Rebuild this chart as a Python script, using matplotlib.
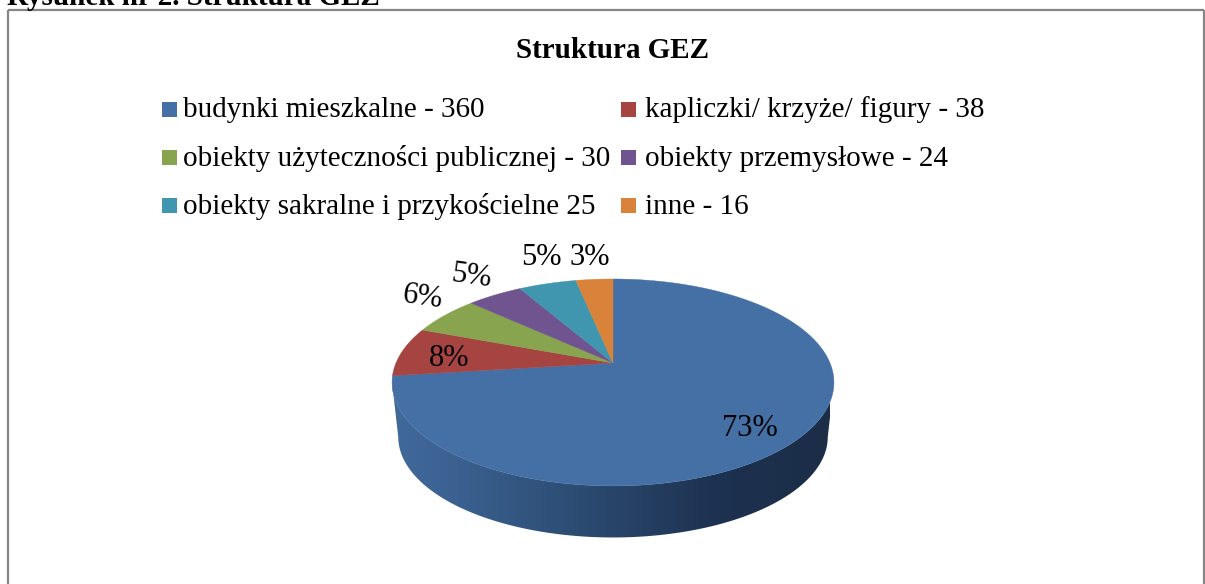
import numpy as np
import matplotlib
matplotlib.use("Agg")
import matplotlib.pyplot as plt
from matplotlib.colors import LinearSegmentedColormap
from matplotlib.patches import Polygon, Rectangle

categories = ["budynki mieszkalne", "kapliczki/ krzyże/ figury", "obiekty użyteczności publicznej",
              "obiekty przemysłowe", "obiekty sakralne i przykościelne", "inne"]
values = [360, 38, 30, 24, 25, 16]
legend_labels = ["budynki mieszkalne - 360", "kapliczki/ krzyże/ figury - 38",
                 "obiekty użyteczności publicznej - 30", "obiekty przemysłowe - 24",
                 "obiekty sakralne i przykościelne 25", "inne - 16"]
colors = ["#4470a6", "#a64442", "#88a44e", "#6f5490", "#4096ae", "#d98239"]

plt.rcParams["font.family"] = ["Liberation Serif", "DejaVu Serif"]

# pixel positions, figure is used as one big canvas
legend_pos = [(162, 102), (621, 102), (162, 150), (621, 150), (162, 198), (621, 198)]
legend_text_pos = [(183, 117), (645, 117), (183, 166), (645, 166), (183, 214), (645, 214)]
pct_pos = [(750, 436), (449, 366), (422, 305), (470, 284), (541, 265), (590, 265)]
pct_rot = [0, 0, -8, -8, 0, 0]

CX, CY = 613, 363
A, B, K = 217, 99.8, 0.188


def project(theta, scale=1.0, dy=0.0):
    # clockwise from the top, circle seen in perspective
    u, v = np.sin(theta), np.cos(theta)
    w = 1 + K * v
    return CX + scale * A * u / w, CY + dy - scale * B * v / w


fig = plt.figure(figsize=(12.05, 5.84), dpi=100)
ax = fig.add_axes([0, 0, 1, 1])
ax.set_xlim(0, 1205)
ax.set_ylim(584, 0)
ax.axis("off")

# frame
ax.plot([8, 8], [584, 10], color="#868686", lw=1.6, solid_capstyle="butt")
ax.plot([8, 1204], [10, 10], color="#868686", lw=1.6, solid_capstyle="butt")
ax.plot([1204, 1204], [10, 584], color="#868686", lw=1.6, solid_capstyle="butt")

ax.text(7, 5, "Rysunek nr 2. Struktura GEZ", fontsize=21, fontweight="bold", va="baseline", ha="left")
ax.text(612, 50, "Struktura GEZ", fontsize=21, fontweight="bold", va="center", ha="center")

# side of the pie
front = np.linspace(np.pi / 2 + 0.19, 3 * np.pi / 2 - 0.19, 200)
tx, ty = project(front)
bx, by = project(front, 0.972, 55)
side = Polygon(np.r_[np.c_[tx, ty], np.c_[bx, by][::-1]], closed=True, fc="none", ec="none")
ax.add_patch(side)
cmap = LinearSegmentedColormap.from_list("side", [(0, "#1b2d47"), (0.25, "#1d3150"), (0.55, "#2b4a6f"),
                                                  (0.85, "#3a6190"), (1, "#41699a")])
grad = ax.imshow(np.linspace(0, 1, 256)[None, :], extent=(830, 392, 545, 370), cmap=cmap, aspect="auto",
                 vmin=0, vmax=1, zorder=1)
grad.set_clip_path(side)
ax.set_xlim(0, 1205)
ax.set_ylim(584, 0)

# top of the pie, slices clockwise from 12 o'clock
start = 0.0
total = sum(values)
for val, col in zip(values, colors):
    end = start + val / total * 2 * np.pi
    t = np.linspace(start, end, 200)
    x, y = project(t)
    ax.add_patch(Polygon(np.r_[[[CX, CY]], np.c_[x, y]], closed=True, fc=col, ec=col, lw=0.3, zorder=2))
    start = end

for val, (px, py), rot in zip(values, pct_pos, pct_rot):
    ax.text(px, py, f"{val / total * 100:.0f}%", fontsize=22, ha="center", va="baseline", color="black",
            rotation=rot, rotation_mode="anchor", zorder=3)

# legend
for lab, col, (lx, ly), (tx_l, ty_l) in zip(legend_labels, colors, legend_pos, legend_text_pos):
    ax.add_patch(Rectangle((lx, ly), 15, 15, fc=col, ec="none"))
    ax.text(tx_l, ty_l, lab, fontsize=21, ha="left", va="baseline", color="black")

fig.savefig("out.png", dpi=100)
